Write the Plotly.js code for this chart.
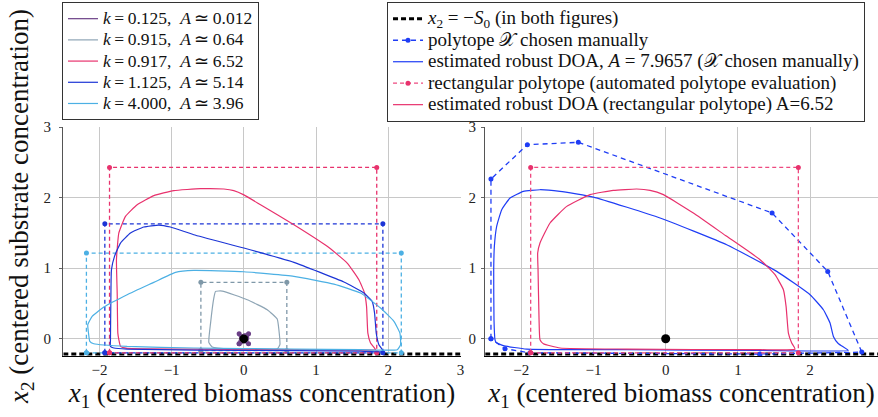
<!DOCTYPE html>
<html>
<head>
<meta charset="utf-8">
<script src="https://cdn.plot.ly/plotly-3.0.1.min.js"></script>
<style>html,body{margin:0;padding:0;background:#fff;}#chart{width:878px;height:417px;}</style>
</head>
<body>
<div id="chart"></div>
<script>
// ---------- data ----------
const s0Value = -0.217;
const s0LineX = [-2.5, 3];

const legendLeft = [
  "<i>k</i>\u2009=\u20090.125,  <i>A</i>\u2009\u2243\u20090.012",
  "<i>k</i>\u2009=\u20090.915,  <i>A</i>\u2009\u2243\u20090.64",
  "<i>k</i>\u2009=\u20090.917,  <i>A</i>\u2009\u2243\u20096.52",
  "<i>k</i>\u2009=\u20091.125,  <i>A</i>\u2009\u2243\u20095.14",
  "<i>k</i>\u2009=\u20094.000,  <i>A</i>\u2009\u2243\u20093.96"
];
const legendRight = [
  "<i>x</i><sub>2</sub> = \u2212<i>S</i><sub>0</sub> (in both figures)",
  "polytope \uD835\uDCB3 chosen manually",
  "estimated robust DOA, <i>A</i> = 7.9657 (\uD835\uDCB3 chosen manually)",
  "rectangular polytope (automated polytope evaluation)",
  "estimated robust DOA (rectangular polytope) A=6.52"
];

// rectangular polytopes (left figure): [xmin, xmax, ymin, ymax]
const rectK0125 = [-0.065, 0.065, -0.07, 0.07];
const rectK0915 = [-0.595, 0.595, -0.17, 0.80];
const rectK0917 = [-1.86, 1.84, -0.20, 2.43];
const rectK1125 = [-1.925, 1.925, -0.20, 1.63];
const rectK4000 = [-2.18, 2.18, -0.20, 1.215];

// DOA curves (left figure)
const doaK0125X = [-0.05, 0.05, 0.055, -0.05, -0.055, -0.05];
const doaK0125Y = [0.055, 0.05, -0.05, -0.055, 0.05, 0.055];

const doaK0915X = [-0.392,-0.299,0.047,0.324,0.462,0.485,0.499,0.462,0.277,-0.184,-0.438,-0.485,-0.461,-0.416,-0.392];
const doaK0915Y = [0.671,0.676,0.553,0.411,0.279,0.128,-0.085,-0.146,-0.156,-0.146,-0.118,-0.052,0.222,0.577,0.671];

const doaK0917X = [-1.731,-1.745,-1.754,-1.764,-1.731,-1.639,-1.477,-1.247,-0.970,-0.600,-0.277,-0.139,0,0.231,0.693,1.154,1.431,1.593,1.671,1.699,1.717,1.754,1.824,1.616,0.693,-0.693,-1.616,-1.708,-1.731];
const doaK0917Y = [-0.014,0.08,0.65,1.12,1.50,1.735,1.90,2.03,2.10,2.128,2.123,2.10,2.04,1.90,1.617,1.31,1.073,0.837,0.648,0.459,0.08,-0.061,-0.156,-0.161,-0.156,-0.147,-0.137,-0.109,-0.014];

const doaK1125X = [-1.847,-1.847,-1.842,-1.833,-1.791,-1.708,-1.570,-1.385,-1.177,-1.016,-0.693,0,0.693,1.385,1.662,1.777,1.810,1.833,1.870,1.930,1.616,0.693,-0.693,-1.616,-1.80,-1.847];
const doaK1125Y = [-0.109,-0.014,0.506,0.979,1.168,1.357,1.499,1.584,1.612,1.584,1.475,1.286,1.083,0.804,0.648,0.530,0.364,0.080,-0.085,-0.180,-0.175,-0.170,-0.161,-0.147,-0.132,-0.109];

const doaK4000X = [-2.151,-2.161,-2.101,-1.939,-1.616,-1.247,-0.946,-0.693,0,0.693,1.247,1.616,1.893,2.078,2.161,2.170,2.124,1.616,0.693,-0.693,-1.616,-2.078,-2.133,-2.151];
const doaK4000Y = [0.080,0.199,0.317,0.449,0.624,0.799,0.941,0.969,0.950,0.884,0.775,0.648,0.435,0.246,0.080,-0.085,-0.156,-0.156,-0.147,-0.132,-0.109,-0.071,-0.038,0.080];

// right figure: manually chosen polytope X
const polyManualX = [-2.42,-2.42,-1.916,-1.21,1.473,2.244,2.715,1.307,-1.88,-2.226,-2.42];
const polyManualY = [0,2.265,2.752,2.785,1.783,0.955,-0.19,-0.217,-0.20,-0.142,0];

// right figure: DOA with manual polytope (A = 7.9657)
const doaManualX = [-2.364,-2.378,-2.382,-2.373,-2.341,-2.271,-2.156,-1.971,-1.741,-1.464,-1.002,-0.078,0.845,1.537,1.999,2.184,2.276,2.322,2.392,2.530,1.307,-0.540,-1.925,-2.248,-2.35,-2.364];
const doaManualY = [-0.014,0.270,0.979,1.310,1.593,1.830,1.995,2.090,2.113,2.090,2.009,1.712,1.333,0.955,0.624,0.411,0.222,0.033,-0.071,-0.165,-0.165,-0.156,-0.147,-0.099,-0.052,-0.014];

// right figure: rectangular polytope + its DOA (A = 6.52)
const rectAuto = [-1.87, 1.837, -0.20, 2.43];
const doaAutoX = [-1.741,-1.754,-1.768,-1.773,-1.741,-1.602,-1.371,-1.048,-0.725,-0.402,-0.217,-0.032,0.383,0.845,1.307,1.514,1.630,1.667,1.699,1.745,1.791,1.307,-0.540,-1.464,-1.694,-1.741];
const doaAutoY = [-0.014,0.270,0.979,1.215,1.357,1.641,1.877,2.043,2.104,2.123,2.104,2.043,1.783,1.452,1.121,0.908,0.695,0.459,0.080,-0.061,-0.147,-0.156,-0.147,-0.132,-0.071,-0.014];

const eqX = [0], eqY = [0];

// ---------- styles ----------
const cPurple = '#6b3f86', cGrey = '#8ea5b5', cGreyDash = '#7f98a8', cPink = '#e8326d', cBlue = '#1c35d6', cLight = '#4cb0e4';
const cBlue2 = '#1f3df5', cPink2 = '#ee4a80';
const FONT = "Times New Roman, Times, Liberation Serif, serif";
const big = (s, px) => '<span style="font-size:' + px + 'px">' + s + '</span>';

function rectXY(r){ return {x:[r[0],r[0],r[1],r[1],r[0]], y:[r[2],r[3],r[3],r[2],r[2]]}; }

const traces = [];
function addRect(r, color, xa, ya, size){
  const p = rectXY(r);
  traces.push({x:p.x, y:p.y, xaxis:xa, yaxis:ya, mode:'lines+markers', showlegend:false,
    line:{color:color, width:1.3, dash:'4px,3px'}, marker:{color:color, size:size||5}, hoverinfo:'skip'});
}
function addCurve(x, y, color, name, xa, ya, legend, show){
  traces.push({x:x, y:y, xaxis:xa, yaxis:ya, mode:'lines', name:name, legend:legend, showlegend:show,
    line:{color:color, width:1.2, shape:'spline', smoothing:0.4}});
}

// left figure
traces.push({x:s0LineX, y:[s0Value,s0Value], xaxis:'x', yaxis:'y', mode:'lines', showlegend:false,
  line:{color:'#000', width:3, dash:'5px,3px'}});
addRect(rectK0915, cGreyDash, 'x', 'y');
addRect(rectK4000, cLight, 'x', 'y');
addRect(rectK1125, cBlue, 'x', 'y');
addRect(rectK0917, cPink, 'x', 'y');
addCurve(doaK0125X, doaK0125Y, cPurple, big(legendLeft[0],17.5), 'x', 'y', 'legend', true);
addCurve(doaK0915X, doaK0915Y, cGrey, big(legendLeft[1],17.5), 'x', 'y', 'legend', true);
addCurve(doaK0917X, doaK0917Y, cPink, big(legendLeft[2],17.5), 'x', 'y', 'legend', true);
addCurve(doaK1125X, doaK1125Y, cBlue, big(legendLeft[3],17.5), 'x', 'y', 'legend', true);
addCurve(doaK4000X, doaK4000Y, cLight, big(legendLeft[4],17.5), 'x', 'y', 'legend', true);
traces.push({x:eqX, y:eqY, xaxis:'x', yaxis:'y', mode:'markers', showlegend:false, marker:{color:'#000', size:9}});
addRect(rectK0125, cPurple, 'x', 'y', 5);

// right figure
traces.push({x:s0LineX, y:[s0Value,s0Value], xaxis:'x2', yaxis:'y2', mode:'lines', name:big(legendRight[0],19), legend:'legend2',
  line:{color:'#000', width:3, dash:'5px,3px'}});
traces.push({x:polyManualX, y:polyManualY, xaxis:'x2', yaxis:'y2', mode:'lines+markers', name:big(legendRight[1],19), legend:'legend2',
  line:{color:cBlue2, width:1.3, dash:'5px,4px'}, marker:{color:cBlue2, size:5}});
addCurve(doaManualX, doaManualY, cBlue2, big(legendRight[2],19), 'x2', 'y2', 'legend2', true);
(function(){ const p = rectXY(rectAuto);
  traces.push({x:p.x, y:p.y, xaxis:'x2', yaxis:'y2', mode:'lines+markers', name:big(legendRight[3],19), legend:'legend2',
    line:{color:cPink2, width:1.3, dash:'4px,3px'}, marker:{color:cPink, size:5}}); })();
addCurve(doaAutoX, doaAutoY, cPink, big(legendRight[4],19), 'x2', 'y2', 'legend2', true);
traces.push({x:eqX, y:eqY, xaxis:'x2', yaxis:'y2', mode:'markers', showlegend:false, marker:{color:'#000', size:9}});

const axisCommon = {
  showgrid:true, gridcolor:'#c8c8c8', gridwidth:1, zeroline:false,
  tickfont:{family:FONT, size:15, color:'#222'}, ticks:'outside', ticklen:3, tickcolor:'#666',
  showline:true, linecolor:'#555', linewidth:1.2, dtick:1, fixedrange:true
};
const titleFont = {family:FONT, size:27, color:'#111'};

const layout = {
  width:878, height:417, margin:{l:0, r:0, t:0, b:0},
  paper_bgcolor:'#fff', plot_bgcolor:'#fff',
  font:{family:FONT, color:'#111'},
  xaxis: Object.assign({}, axisCommon, {domain:[0.0721, 0.5245], range:[-2.5, 3], anchor:'y', linecolor:'#000', linewidth:1.5, ticks:'',
    title:{text:'<i>x</i><sub>1</sub> (centered biomass concentration)', font:titleFont, standoff:4}}),
  yaxis: Object.assign({}, axisCommon, {domain:[0.1463, 0.695], range:[-0.245, 3], anchor:'x', ticklabelstandoff:5}),
  xaxis2: Object.assign({}, axisCommon, {domain:[0.5526, 1.0], range:[-2.5, 2.94], anchor:'y2', linecolor:'#000', linewidth:1.5, ticks:'',
    title:{text:'<i>x</i><sub>1</sub> (centered biomass concentration)', font:titleFont, standoff:4}}),
  yaxis2: Object.assign({}, axisCommon, {domain:[0.1463, 0.695], range:[-0.245, 3], anchor:'x2', ticklabelstandoff:2}),
  legend:{x:0.0706, y:0.995, xanchor:'left', yanchor:'top', bgcolor:'#fff', bordercolor:'#333', borderwidth:1,
    font:{family:FONT, size:14, color:'#111'}, itemwidth:30, tracegroupgap:0},
  legend2:{x:0.4408, y:0.995, xanchor:'left', yanchor:'top', bgcolor:'#fff', bordercolor:'#333', borderwidth:1,
    font:{family:FONT, size:14.2, color:'#111'}, itemwidth:30, tracegroupgap:0},
  annotations:[{text:'<i>x</i><sub>2</sub> (centered substrate concentration)', xref:'paper', yref:'paper',
    x:21/878, y:1-207/417, xanchor:'center', yanchor:'middle', textangle:-90, showarrow:false,
    font:{family:FONT, size:27, color:'#111'}}]
};

Plotly.newPlot('chart', traces, layout, {staticPlot:true, displayModeBar:false});
</script>
</body>
</html>
